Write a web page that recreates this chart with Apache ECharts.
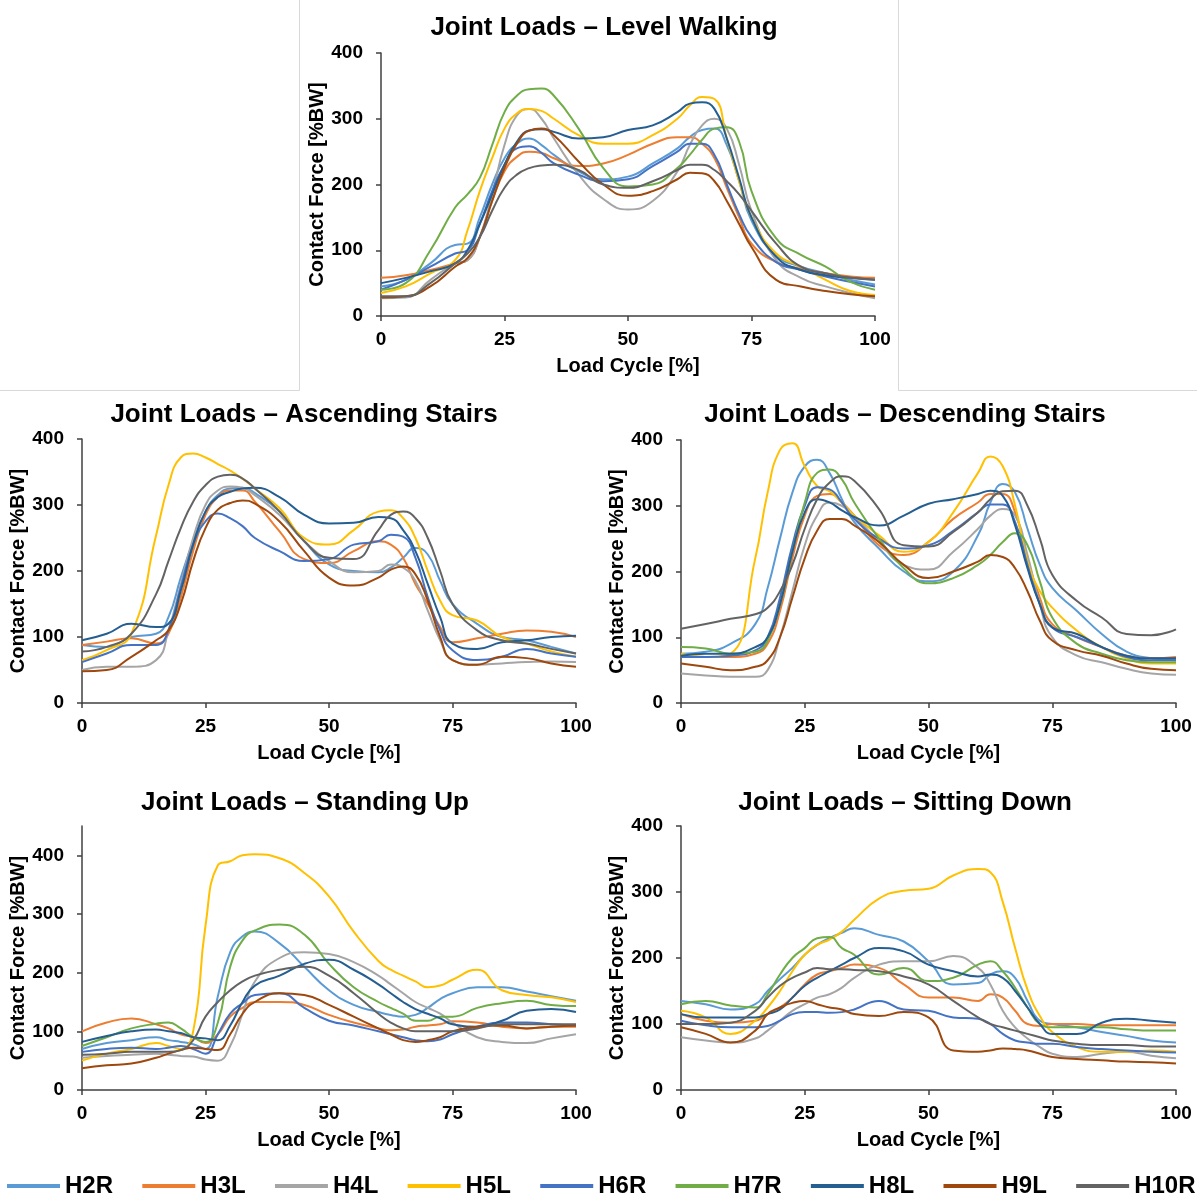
<!DOCTYPE html>
<html><head><meta charset="utf-8">
<script src="https://cdn.jsdelivr.net/npm/echarts@6/dist/echarts.min.js"></script>
<style>html,body{margin:0;padding:0;background:#fff}#c{width:1197px;height:1203px}</style>
</head><body><div id="c"></div>
<script>
// Load cycle positions [%]
const cycle = [0,5,10,15,17.5,20,22.5,25,27.5,30,32.5,35,40,45,50,55,60,62.5,65,67.5,70,72.5,75,80,85,90,95,100];
const names = ['H2R','H3L','H4L','H5L','H6R','H7R','H8L','H9L','H10R'];
const colors = ['#5B9BD5','#ED7D31','#A5A5A5','#FFC000','#4472C4','#70AD47','#255E91','#9E480E','#636363'];
const titles = ['Joint Loads \u2013 Level Walking','Joint Loads \u2013 Ascending Stairs','Joint Loads \u2013 Descending Stairs','Joint Loads \u2013 Standing Up','Joint Loads \u2013 Sitting Down'];
const xTicks = [0,25,50,75,100];
const yTicks = [0,100,200,300,400];

// Level walking
const walkH2R = [45,55,80,108,110,150,200,240,262,270,260,245,220,208,212,232,255,272,283,285,260,205,145,92,75,65,55,48];
const walkH3L = [58,62,70,80,85,120,175,220,242,250,248,240,228,232,245,262,272,272,262,240,195,150,110,82,72,65,60,58];
const walkH4L = [27,28,55,80,85,120,185,260,305,315,300,270,215,178,162,175,220,260,290,300,285,230,160,85,58,45,35,27];
const walkH5L = [35,45,65,85,130,190,240,285,308,315,312,300,275,262,262,275,300,320,333,330,270,205,150,95,75,55,38,32];
const walkH6R = [40,55,75,95,100,140,190,230,255,258,248,232,215,205,208,228,250,262,262,245,200,155,120,82,70,60,52,45];
const walkH7R = [40,50,100,165,185,210,260,310,335,345,346,335,285,225,197,200,225,245,268,285,287,265,190,118,93,75,52,40];
const walkH8L = [50,58,68,80,100,140,185,230,265,282,284,280,270,272,283,290,310,323,325,315,270,210,150,90,70,62,58,55];
const walkH9L = [28,30,45,75,88,120,175,225,262,282,285,275,235,200,183,190,208,218,217,205,175,140,105,55,45,38,33,30];
const walkH10R = [30,30,50,80,95,120,160,195,215,225,229,230,222,200,195,205,222,230,230,222,205,185,160,110,75,65,58,55];

// Ascending stairs
const ascH2R = [88,85,100,105,130,190,245,290,315,325,326,318,290,245,210,200,198,205,220,235,225,185,150,120,100,95,85,75];
const ascH3L = [88,93,98,90,105,160,230,285,312,322,322,305,260,218,212,230,245,240,220,180,150,115,92,98,105,110,108,100];
const ascH4L = [50,55,55,65,110,180,250,300,322,328,326,315,285,245,215,198,200,210,205,185,140,95,65,58,60,62,63,62];
const ascH5L = [65,80,105,254,330,372,378,372,362,352,340,325,295,250,240,262,290,292,280,250,200,155,133,125,100,90,78,70];
const ascH6R = [62,75,88,88,110,175,240,275,287,280,268,250,230,215,218,240,245,255,252,220,160,110,80,65,70,82,75,70];
const ascH7R = [];
const ascH8L = [95,105,120,115,120,170,240,290,312,320,325,326,312,285,272,273,282,280,262,230,180,130,90,82,92,95,100,102];
const ascH9L = [48,50,70,95,110,150,215,265,293,303,307,302,275,230,190,178,190,202,207,195,155,100,65,58,70,68,60,55];
const ascH10R = [78,85,105,165,215,265,305,330,343,346,340,325,290,245,220,218,262,285,290,280,250,200,150,110,95,90,82,75];

// Descending stairs
const descH2R = [75,78,90,120,175,250,320,360,370,350,310,275,235,200,185,200,255,305,333,320,265,210,175,140,105,78,68,65];
const descH3L = [72,70,70,75,90,140,220,285,315,318,305,285,240,225,245,280,305,318,318,290,220,160,120,100,85,72,68,70];
const descH4L = [45,42,40,40,50,100,170,240,285,305,300,285,245,210,203,230,265,285,295,285,225,150,100,72,62,52,45,43];
const descH5L = [75,70,75,220,320,385,395,360,330,322,305,285,255,230,245,290,350,375,360,300,215,170,145,110,85,68,60,60];
const descH6R = [70,70,72,80,100,160,240,300,328,325,305,280,250,235,240,262,290,302,302,275,210,150,115,100,85,70,65,65];
const descH7R = [85,83,75,78,95,150,230,305,350,355,340,305,250,205,182,190,210,225,245,258,240,185,130,90,75,65,62,62];
const descH8L = [72,75,75,85,100,150,230,290,310,305,293,283,270,285,303,310,318,323,315,270,205,150,115,105,85,72,68,68];
const descH9L = [60,55,50,55,65,100,160,220,262,280,280,270,245,210,190,200,215,225,222,205,170,125,95,80,72,60,52,50];
const descH10R = [113,120,128,135,145,170,210,265,310,335,345,338,295,240,238,260,290,310,322,323,300,250,195,155,130,105,103,112];

// Standing up
const standH2R = [70,80,85,90,85,82,78,70,160,235,262,270,250,210,170,145,133,128,125,128,140,155,165,175,175,168,160,152];
const standH3L = [100,115,122,112,105,95,90,80,95,125,140,150,150,145,128,115,105,102,103,108,110,112,117,115,108,105,108,108];
const standH4L = [55,58,60,62,60,58,57,52,50,75,130,185,225,235,232,218,195,180,165,150,140,130,115,90,82,80,88,95];
const standH5L = [50,62,70,80,75,70,100,280,383,390,400,402,395,370,330,270,220,205,195,185,175,178,188,205,170,162,158,150];
const standH6R = [65,70,72,70,72,75,70,62,95,130,148,162,165,140,118,110,100,95,90,85,83,86,95,108,115,115,112,110];
const standH7R = [75,90,105,113,115,105,90,82,115,210,255,272,282,265,215,175,150,140,130,118,118,125,125,140,148,152,145,143];
const standH8L = [82,92,100,103,100,97,90,88,85,110,150,178,195,215,222,205,180,165,150,138,130,122,112,108,118,135,138,133];
const standH9L = [37,42,45,55,62,68,72,70,68,95,130,150,165,162,145,125,105,95,85,82,85,90,100,108,110,105,108,110];
const standH10R = [60,62,65,65,65,68,85,125,150,170,185,195,205,210,195,165,130,115,105,100,100,100,100,105,112,112,112,112];

// Sitting down
const sitH2R = [135,130,122,130,150,168,185,205,220,230,238,245,235,225,195,160,162,175,180,170,135,105,100,95,88,82,75,72];
const sitH3L = [115,105,102,105,115,125,140,160,175,180,185,190,185,160,140,140,135,145,140,120,100,97,100,100,98,98,98,98];
const sitH4L = [80,75,72,78,90,105,120,130,140,145,155,170,190,195,195,203,185,160,120,95,78,65,55,50,55,58,52,48];
const sitH5L = [120,110,85,105,125,150,180,205,220,228,240,258,290,302,305,325,335,330,285,215,152,112,88,65,58,58,60,58];
const sitH6R = [105,98,95,95,97,105,115,118,118,117,118,122,135,122,120,110,108,100,85,75,72,70,70,65,62,60,58,57];
const sitH7R = [130,135,128,125,145,175,200,215,230,232,215,205,175,185,165,170,190,195,180,155,125,100,95,95,95,92,90,90];
const sitH8L = [115,110,110,110,115,122,140,158,170,180,190,200,215,210,190,180,172,175,170,150,125,100,85,85,102,108,105,102];
const sitH9L = [95,85,72,90,115,125,132,135,130,125,122,115,112,118,110,60,58,60,63,62,60,55,50,47,45,43,42,40];
const sitH10R = [100,100,102,120,140,158,170,178,185,183,183,182,180,172,160,135,110,100,95,90,85,80,75,70,68,68,66,66];

const panelData = [
  [walkH2R,walkH3L,walkH4L,walkH5L,walkH6R,walkH7R,walkH8L,walkH9L,walkH10R],
  [ascH2R,ascH3L,ascH4L,ascH5L,ascH6R,ascH7R,ascH8L,ascH9L,ascH10R],
  [descH2R,descH3L,descH4L,descH5L,descH6R,descH7R,descH8L,descH9L,descH10R],
  [standH2R,standH3L,standH4L,standH5L,standH6R,standH7R,standH8L,standH9L,standH10R],
  [sitH2R,sitH3L,sitH4L,sitH5L,sitH6R,sitH7R,sitH8L,sitH9L,sitH10R]
];

// layout
const FONT = '"Liberation Sans", Arial, sans-serif';
const grids = [
  {left:381, top:53, width:494, height:263},
  {left:82, top:439, width:494, height:264},
  {left:681, top:440, width:495, height:263},
  {left:82, top:826, width:494, height:264},
  {left:681, top:826, width:495, height:264}
];
const yMax = [400,400,400,450,400];
const titlePos = [[599,10],[299,397],[900,397],[300,785],[900,785]];

const axisLineStyle = {color:'#404040', width:1.5};
const xAxes = grids.map((g,i)=>({
  gridIndex:i, type:'value', min:0, max:100, interval:25,
  name:'Load Cycle [%]', nameLocation:'middle', nameGap:40,
  nameTextStyle:{fontSize:20, fontWeight:'bold', color:'#000', fontFamily:FONT},
  axisLine:{show:true, lineStyle:axisLineStyle},
  axisTick:{show:true, length:5, lineStyle:axisLineStyle, customValues:xTicks},
  axisLabel:{fontSize:19, fontWeight:'bold', color:'#000', fontFamily:FONT, margin:14, customValues:xTicks},
  splitLine:{show:false}
}));
const yAxes = grids.map((g,i)=>({
  gridIndex:i, type:'value', min:0, max:yMax[i], interval:100,
  name:'Contact Force [%BW]', nameLocation:'middle', nameGap:54,
  nameTextStyle:{fontSize:20, fontWeight:'bold', color:'#000', fontFamily:FONT},
  axisLine:{show:true, onZero:false, lineStyle:axisLineStyle},
  axisTick:{show:true, length:5, lineStyle:axisLineStyle, customValues:yTicks},
  axisLabel:{fontSize:19, fontWeight:'bold', color:'#000', fontFamily:FONT, margin:18, customValues:yTicks},
  splitLine:{show:false}
}));

const series = [];
panelData.forEach((panel,i)=>{
  panel.forEach((vals,j)=>{
    series.push({
      type:'line', name:names[j], xAxisIndex:i, yAxisIndex:i,
      data: vals.map((v,k)=>[cycle[k], v]),
      smooth:0.5, showSymbol:false, symbol:'none',
      lineStyle:{width:2, color:colors[j]}, itemStyle:{color:colors[j]},
      clip:true
    });
  });
});

const chart = echarts.init(document.getElementById('c'));
chart.setOption({
  animation:false,
  backgroundColor:'#fff',
  title: titles.map((t,i)=>({text:t, left:titlePos[i][0], top:titlePos[i][1], textAlign:'center',
    textStyle:{fontSize:26, fontWeight:'bold', color:'#000', fontFamily:FONT}})),
  legend:{
    data: names.map(n=>({name:n, icon:'rect'})),
    left:7, top:1174, padding:0, itemWidth:53, itemHeight:4, itemGap:29.3,
    textStyle:{fontSize:24, fontWeight:'bold', color:'#000', fontFamily:FONT}
  },
  grid: grids,
  xAxis: xAxes,
  yAxis: yAxes,
  series: series,
  graphic:[
    {type:'line', shape:{x1:299.5,y1:0,x2:299.5,y2:390.5}, style:{stroke:'#d9d9d9', lineWidth:1}},
    {type:'line', shape:{x1:0,y1:390.5,x2:299.5,y2:390.5}, style:{stroke:'#d9d9d9', lineWidth:1}},
    {type:'line', shape:{x1:898.5,y1:0,x2:898.5,y2:390.5}, style:{stroke:'#d9d9d9', lineWidth:1}},
    {type:'line', shape:{x1:898.5,y1:390.5,x2:1197,y2:390.5}, style:{stroke:'#d9d9d9', lineWidth:1}}
  ]
});
</script></body></html>
